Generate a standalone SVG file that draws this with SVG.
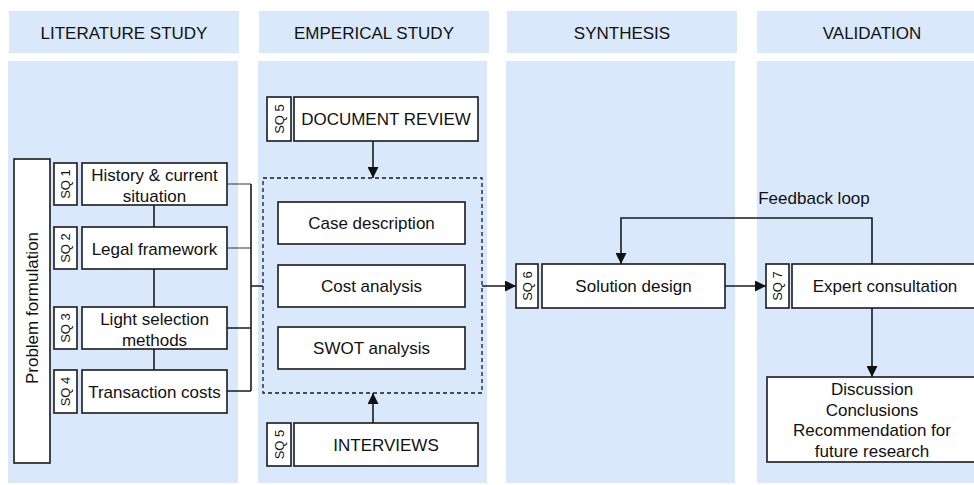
<svg xmlns="http://www.w3.org/2000/svg" width="974" height="485" viewBox="0 0 974 485">
  <style>
    .panel { fill: #dae8fc; }
    .box { fill: #ffffff; stroke: #1a1a1a; stroke-width: 1.6; }
    .t { font-family: "Liberation Sans", Arial, sans-serif; font-size: 17px; fill: #111111; text-anchor: middle; }
    .sq { font-size: 13px; }
    .line { fill: none; stroke: #1a1a1a; stroke-width: 1.6; }
    .thin { fill: none; stroke: #333333; stroke-width: 1.2; }
    .arrow { fill: none; stroke: #1a1a1a; stroke-width: 1.6; marker-end: url(#head); }
    .dash { fill: none; stroke: #1a1a1a; stroke-width: 1.3; stroke-dasharray: 4 3; }
  </style>
  <defs>
    <marker id="head" viewBox="0 0 10 10" refX="10" refY="5" markerWidth="11" markerHeight="11" markerUnits="userSpaceOnUse" orient="auto">
      <path d="M0,0 L10,5 L0,10 z" fill="#111111"/>
    </marker>
  </defs>

  <rect width="974" height="485" fill="#ffffff"/>

  <!-- phase columns: header band + body -->
  <g id="col-literature">
    <rect class="panel" x="9" y="11" width="230" height="42"/>
    <rect class="panel" x="8" y="61" width="230" height="422"/>
    <text class="t" x="124" y="39">LITERATURE STUDY</text>
  </g>
  <g id="col-emperical">
    <rect class="panel" x="259" y="11" width="230" height="42"/>
    <rect class="panel" x="258" y="61" width="229" height="422"/>
    <text class="t" x="374" y="39">EMPERICAL STUDY</text>
  </g>
  <g id="col-synthesis">
    <rect class="panel" x="507" y="11" width="230" height="42"/>
    <rect class="panel" x="506" y="61" width="229" height="422"/>
    <text class="t" x="622" y="39">SYNTHESIS</text>
  </g>
  <g id="col-validation">
    <rect class="panel" x="757" y="11" width="230" height="42"/>
    <rect class="panel" x="757" y="61" width="230" height="422"/>
    <text class="t" x="872" y="39">VALIDATION</text>
  </g>

  <!-- connectors -->
  <g id="connectors">
    <path class="line" d="M154,205 V227 M154,269 V307 M154,349 V370"/>
    <path class="thin" d="M227,184 H251 M227,248 H251"/>
    <path class="line" d="M227,328 H251 M227,391 H251 M251,184 V391 M251,286 H263"/>
    <path class="arrow" d="M373,141 V178"/>
    <path class="arrow" d="M373,423 V393"/>
    <path class="arrow" d="M482,286 H516"/>
    <path class="arrow" d="M725,286 H766"/>
    <path class="arrow" d="M872,264 V218 H621 V264"/>
    <path class="arrow" d="M872,308 V377"/>
    <text class="t" x="814" y="204">Feedback loop</text>
  </g>

  <!-- literature study -->
  <g id="problem-formulation">
    <rect class="box" x="14" y="159" width="36" height="304"/>
    <text class="t" x="32" y="308" dy="6" transform="rotate(-90 32 308)">Problem formulation</text>
  </g>
  <g id="sq1-history">
    <rect class="box" x="54" y="163" width="23" height="42"/>
    <text class="t sq" x="65.5" y="184" dy="4.5" transform="rotate(-90 65.5 184)">SQ 1</text>
    <rect class="box" x="82" y="163" width="145" height="42"/>
    <text class="t" x="154.5" y="181">History &amp; current</text>
    <text class="t" x="154.5" y="201.5">situation</text>
  </g>
  <g id="sq2-legal">
    <rect class="box" x="54" y="227" width="23" height="42"/>
    <text class="t sq" x="65.5" y="248" dy="4.5" transform="rotate(-90 65.5 248)">SQ 2</text>
    <rect class="box" x="82" y="227" width="145" height="42"/>
    <text class="t" x="154.5" y="254.5">Legal framework</text>
  </g>
  <g id="sq3-light-selection">
    <rect class="box" x="54" y="307" width="23" height="42"/>
    <text class="t sq" x="65.5" y="328" dy="4.5" transform="rotate(-90 65.5 328)">SQ 3</text>
    <rect class="box" x="82" y="307" width="145" height="42"/>
    <text class="t" x="154.5" y="325">Light selection</text>
    <text class="t" x="154.5" y="345.5">methods</text>
  </g>
  <g id="sq4-transaction">
    <rect class="box" x="54" y="370" width="23" height="43"/>
    <text class="t sq" x="65.5" y="391.5" dy="4.5" transform="rotate(-90 65.5 391.5)">SQ 4</text>
    <rect class="box" x="82" y="370" width="145" height="43"/>
    <text class="t" x="154.5" y="397.5">Transaction costs</text>
  </g>

  <!-- emperical study -->
  <g id="sq5-document-review">
    <rect class="box" x="267" y="97" width="24" height="44"/>
    <text class="t sq" x="279" y="119" dy="4.5" transform="rotate(-90 279 119)">SQ 5</text>
    <rect class="box" x="294" y="97" width="184" height="44"/>
    <text class="t" x="386" y="125">DOCUMENT REVIEW</text>
  </g>
  <g id="case-study-group">
    <rect class="dash" x="263" y="178" width="219" height="215"/>
  </g>
  <g id="case-description">
    <rect class="box" x="278" y="202" width="187" height="42"/>
    <text class="t" x="371.5" y="229">Case description</text>
  </g>
  <g id="cost-analysis">
    <rect class="box" x="278" y="265" width="187" height="42"/>
    <text class="t" x="371.5" y="292">Cost analysis</text>
  </g>
  <g id="swot-analysis">
    <rect class="box" x="278" y="327" width="187" height="42"/>
    <text class="t" x="371.5" y="354">SWOT analysis</text>
  </g>
  <g id="sq5-interviews">
    <rect class="box" x="267" y="423" width="24" height="43"/>
    <text class="t sq" x="279" y="444.5" dy="4.5" transform="rotate(-90 279 444.5)">SQ 5</text>
    <rect class="box" x="294" y="423" width="184" height="43"/>
    <text class="t" x="386" y="451">INTERVIEWS</text>
  </g>

  <!-- synthesis -->
  <g id="sq6-solution-design">
    <rect class="box" x="516" y="264" width="22" height="44"/>
    <text class="t sq" x="527" y="286" dy="4.5" transform="rotate(-90 527 286)">SQ 6</text>
    <rect class="box" x="542" y="264" width="183" height="44"/>
    <text class="t" x="633.5" y="292">Solution design</text>
  </g>

  <!-- validation -->
  <g id="sq7-expert-consultation">
    <rect class="box" x="766" y="264" width="23" height="44"/>
    <text class="t sq" x="777.5" y="286" dy="4.5" transform="rotate(-90 777.5 286)">SQ 7</text>
    <rect class="box" x="792" y="264" width="186" height="44"/>
    <text class="t" x="885" y="292">Expert consultation</text>
  </g>
  <g id="discussion">
    <rect class="box" x="767" y="377" width="211" height="85"/>
    <text class="t" x="872" y="395">Discussion</text>
    <text class="t" x="872" y="415.5">Conclusions</text>
    <text class="t" x="872" y="436">Recommendation for</text>
    <text class="t" x="872" y="456.5">future research</text>
  </g>
</svg>
